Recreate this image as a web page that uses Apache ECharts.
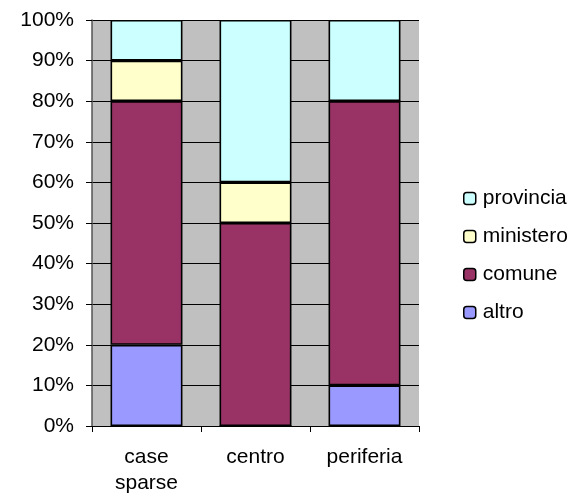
<!DOCTYPE html>
<html><head><meta charset="utf-8">
<script src="https://cdn.jsdelivr.net/npm/echarts@6/dist/echarts.min.js"></script>
<style>html,body{margin:0;padding:0;background:#fff}#c{width:574px;height:499px}</style>
</head><body><div id="c"></div>
<script>
const categories = ['case\nsparse', 'centro', 'periferia'];
const altro = [20, 0, 10];
const comune = [60, 50, 70];
const ministero = [10, 10, 0];
const provincia = [10, 40, 20];
const yTicks = [0, 10, 20, 30, 40, 50, 60, 70, 80, 90, 100];

const font = 'Liberation Sans, Arial, sans-serif';
const chart = echarts.init(document.getElementById('c'));
function s(name, data, color) {
  return {
    name, type: 'bar', stack: 'total', data, barWidth: '66%',
    itemStyle: { color, borderColor: '#000', borderWidth: 1.6 },
    emphasis: { disabled: true }
  };
}
chart.setOption({
  animation: false,
  backgroundColor: '#fff',
  textStyle: { fontFamily: font },
  grid: { left: 92, top: 20, width: 327, height: 406, backgroundColor: '#C0C0C0', show: true, borderWidth: 0 },
  legend: {
    orient: 'vertical', left: 463, top: 188, padding: 0, itemGap: 17, itemWidth: 12, itemHeight: 12,
    data: ['provincia', 'ministero', 'comune', 'altro'],
    textStyle: { fontSize: 21, color: '#000', fontFamily: font, padding: [0, 0, 0, 2] },
    itemStyle: { borderColor: '#000', borderWidth: 1.5 }
  },
  xAxis: {
    type: 'category', data: categories,
    axisLine: { lineStyle: { color: '#000', width: 1 } },
    axisTick: { show: true, length: 6, lineStyle: { color: '#000' }, alignWithLabel: false },
    axisLabel: { fontSize: 21, color: '#000', fontFamily: font, margin: 18, lineHeight: 26 }
  },
  yAxis: {
    type: 'value', min: 0, max: 100, interval: 10,
    axisLine: { show: true, lineStyle: { color: '#555', width: 1.5 } },
    axisTick: { show: true, length: 6, lineStyle: { color: '#000' } },
    splitLine: { lineStyle: { color: '#000', width: 1 } },
    axisLabel: { fontSize: 21, color: '#000', fontFamily: font, margin: 18,
      formatter: v => yTicks.includes(v) ? v + '%' : '' }
  },
  series: [
    s('altro', altro, '#9999FF'),
    s('comune', comune, '#993366'),
    s('ministero', ministero, '#FFFFCC'),
    s('provincia', provincia, '#CCFFFF')
  ]
});
</script></body></html>
